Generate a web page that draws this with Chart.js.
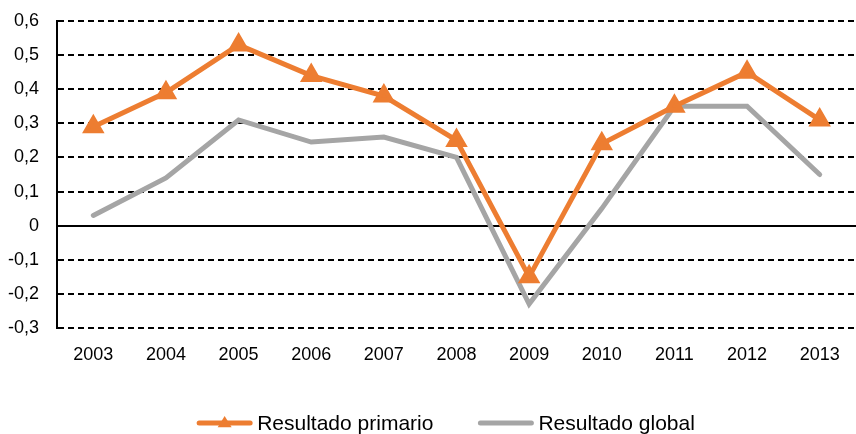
<!DOCTYPE html>
<html>
<head>
<meta charset="utf-8">
<script src="https://cdn.jsdelivr.net/npm/chart.js@4.4.0/dist/chart.umd.min.js"></script>
<style>
  html, body { margin: 0; padding: 0; background: #fff; overflow: hidden; }
  #wrap { width: 856px; height: 434px; position: relative; }
  canvas { display: block; }
</style>
</head>
<body>
<div id="wrap"><canvas id="grafico"></canvas></div>
<script>
// Datos
const anios = ["2003", "2004", "2005", "2006", "2007", "2008", "2009", "2010", "2011", "2012", "2013"];
const resultadoPrimario = [0.29, 0.39, 0.53, 0.44, 0.38, 0.25, -0.15, 0.24, 0.35, 0.45, 0.31];
const resultadoGlobal = [0.03, 0.14, 0.31, 0.245, 0.26, 0.20, -0.23, 0.05, 0.35, 0.35, 0.15];
const etiquetasSerie = ["Resultado primario", "Resultado global"];

const naranja = "#ED7D31";
const gris = "#A5A5A5";
const fuente = "'Liberation Sans', Arial, sans-serif";

// leyenda dibujada a mano (linea + triangulo como en Excel)
const leyendaPlugin = {
  id: "leyendaAbajo",
  afterDraw(chart) {
    const ctx = chart.ctx;
    const y = 423;
    ctx.save();
    ctx.font = "21px " + fuente;
    ctx.textBaseline = "middle";
    const muestra = 55, sep = 5, entre = 45;
    const w1 = ctx.measureText(etiquetasSerie[0]).width;
    const w2 = ctx.measureText(etiquetasSerie[1]).width;
    const total = muestra + sep + w1 + entre + muestra + sep + w2;
    let x = (chart.width - total) / 2 + 18;
    chart.data.datasets.forEach((ds, i) => {
      ctx.strokeStyle = ds.borderColor;
      ctx.lineWidth = 5;
      ctx.lineCap = "round";
      ctx.beginPath();
      ctx.moveTo(x + 2, y);
      ctx.lineTo(x + muestra - 2, y);
      ctx.stroke();
      if (ds.pointStyle === "triangle") {
        const cx = x + muestra / 2, r = 7;
        ctx.fillStyle = ds.borderColor;
        ctx.beginPath();
        ctx.moveTo(cx, y - r);
        ctx.lineTo(cx + r, y + r * 0.6);
        ctx.lineTo(cx - r, y + r * 0.6);
        ctx.closePath();
        ctx.fill();
      }
      x += muestra + sep;
      ctx.fillStyle = "#000";
      ctx.fillText(ds.label, x, y + 1);
      x += (i === 0 ? w1 : w2) + entre;
    });
    ctx.restore();
  }
};

new Chart(document.getElementById("grafico"), {
  type: "line",
  data: {
    labels: anios,
    datasets: [
      {
        label: etiquetasSerie[0],
        data: resultadoPrimario,
        borderColor: naranja,
        backgroundColor: naranja,
        borderWidth: 5,
        pointStyle: "triangle",
        pointRadius: 8,
        pointHoverRadius: 8,
        tension: 0
      },
      {
        label: etiquetasSerie[1],
        data: resultadoGlobal,
        borderColor: gris,
        backgroundColor: gris,
        borderWidth: 5,
        pointRadius: 0,
        borderCapStyle: "round",
        tension: 0,
        order: 1
      }
    ]
  },
  options: {
    responsive: true,
    maintainAspectRatio: false,
    animation: false,
    layout: { autoPadding: false, padding: { top: 21, right: 0, bottom: 66, left: 0 } },
    plugins: {
      legend: { display: false },
      tooltip: { enabled: false }
    },
    scales: {
      x: {
        offset: true,
        grid: { display: false, drawTicks: false },
        border: { display: false },
        ticks: { color: "#000", font: { family: fuente, size: 18 }, padding: 16, maxRotation: 0 },
        afterFit(scale) {
          scale.height = 40;
          scale.paddingLeft = 0;
          scale.paddingRight = 0;
        }
      },
      y: {
        min: -0.3,
        max: 0.6,
        ticks: {
          stepSize: 0.1,
          color: "#000",
          padding: 18,
          font: { family: fuente, size: 18 },
          callback: v => {
            const r = Math.round(v * 10) / 10;
            return r === 0 ? "0" : r.toFixed(1).replace(".", ",");
          }
        },
        grid: {
          color: "#000",
          lineWidth: 2,
          drawTicks: false
        },
        border: {
          display: true,
          color: "#000",
          width: 2,
          dash: c => (c.tick && Math.abs(c.tick.value) < 1e-9) ? [] : [6, 4]
        },
        afterFit(scale) {
          scale.width = 57;
          scale.paddingTop = 0;
          scale.paddingBottom = 0;
        }
      }
    }
  },
  plugins: [leyendaPlugin]
});
</script>
</body>
</html>
